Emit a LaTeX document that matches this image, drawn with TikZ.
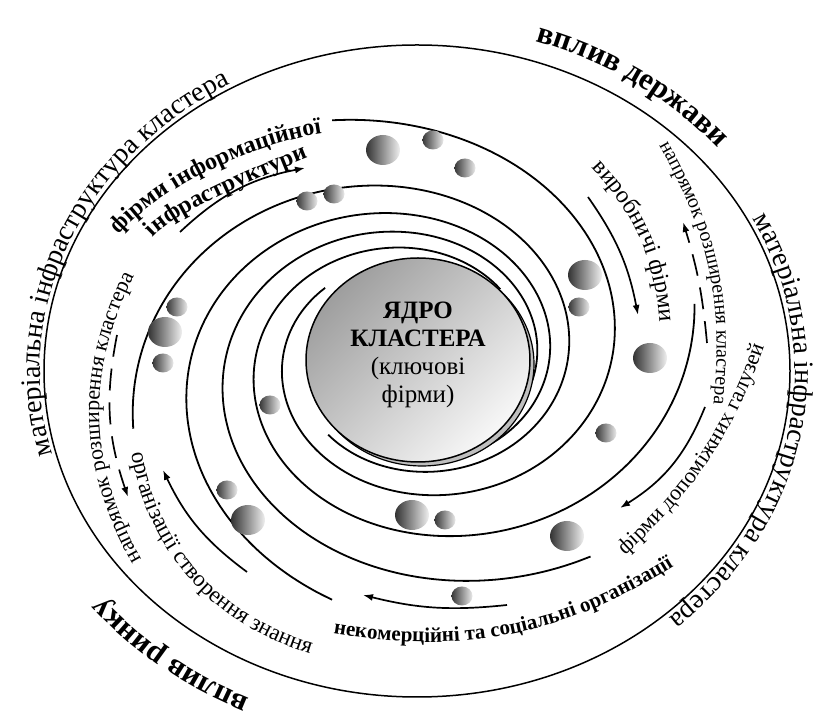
\documentclass[tikz,border=0pt]{standalone}
\usepackage{fontspec}
\setmainfont{Liberation Serif}
\usetikzlibrary{arrows.meta,decorations.text}
\newcommand{\fsz}[1]{\fontsize{#1}{#1}\selectfont}

\begin{document}
\begin{tikzpicture}[
        x=1pt, y=1pt,
        arm/.style={line width=1.8pt},
        flow/.style={-{Latex[length=10pt,width=7pt]}, line width=1.7pt},
        expand/.style={flow, dash pattern=on 22pt off 12pt},
        bigball/.style={left color=black!80, right color=black!6},
        smallball/.style={left color=black!78, right color=black!8},
        curvetext/.style={decorate, decoration={text along path, text align=center, text={#1}}}
      ]
        \useasboundingbox (0,0) rectangle (825,725);

        \draw[line width=1.5pt] (417,354) ellipse [x radius=373, y radius=326];

        % spiral arms
        \foreach \e [evaluate=\e as \s using \e-330] in {196,106,13,308,254}
          \draw[arm] plot[domain=\s:\e, samples=100, smooth]
            ({412+(90+200*0.6^((\e-\x)/90))*cos(\x)}, {365+0.86*(90+200*0.6^((\e-\x)/90))*sin(\x)});

        % core
        \draw[line width=1.2pt, fill=black!25] (422,361) ellipse [x radius=112, y radius=102];
        \shade[draw=black, line width=1.5pt, top color=black!38, bottom color=black!3, shading angle=45]
          (418,365) ellipse [x radius=112, y radius=102];
        \node[font=\fontsize{25}{28}\selectfont, align=center] (core) at (418,370)
          {\textbf{ЯДРО}\\\textbf{КЛАСТЕРА}\\(ключові\hspace*{0.8em}\\фірми)};

        % firms
        \foreach \bx/\by in {383/575, 585/450, 650/367, 567/189, 412/210, 248/205, 165/393}
          \shade[bigball] (\bx,\by) ellipse [x radius=17, y radius=15];
        \foreach \bx/\by in {433/585, 465/557, 307/524, 334/531, 579/418, 606/292, 445/205, 462/129, 227/235, 270/320, 177/418, 163/362}
          \shade[smallball] (\bx,\by) ellipse [x radius=10.5, y radius=9.5];

        % arrows
        \coordinate (infoS) at (180,493);  \coordinate (infoE) at (305,557);
        \coordinate (prodS) at (588,528);  \coordinate (prodE) at (638,410);
        \coordinate (expRS) at (707,382);  \coordinate (expRE) at (683,503);
        \coordinate (auxS) at (705,318);   \coordinate (auxE) at (620,217);
        \coordinate (ngoS) at (507,120);   \coordinate (ngoE) at (363,130);
        \coordinate (knowS) at (247,153);  \coordinate (knowE) at (163,255);
        \coordinate (expLS) at (117,390);  \coordinate (expLE) at (128,228);
        \draw[flow] (infoS) to[bend left=16] (infoE);
        \draw[flow] (prodS) to[bend left=12] (prodE);
        \draw[expand] (expRS) to[bend right=6] (expRE);
        \draw[flow] (auxS) to[bend left=18] (auxE);
        \draw[flow] (ngoS) to[bend left=10] (ngoE);
        \draw[flow] (knowS) to[bend left=14] (knowE);
        \draw[expand] (expLS) to[bend right=15] (expLE);

        % outer labels
        \path[curvetext={|\fsz{28}|матеріальна інфраструктура кластера}]
          ({417+377*cos(215)},{354+330*sin(215)}) arc[start angle=215, end angle=101, x radius=377, y radius=330];
        \path[curvetext={|\fsz{28}|матеріальна інфраструктура кластера}]
          ({417+378*cos(48)},{354+331*sin(48)}) arc[start angle=48, end angle=-68, x radius=378, y radius=331];
        \path[curvetext={|\bfseries\fsz{31}|вплив держави}]
          ({417+393*cos(97)},{354+346*sin(97)}) arc[start angle=97, end angle=13, x radius=393, y radius=346];
        \path[curvetext={|\bfseries\fsz{31}|вплив ринку}]
          ({417+406*cos(273)},{354+359*sin(273)}) arc[start angle=273, end angle=189, x radius=406, y radius=359];

        % inner labels
        \path[curvetext={|\bfseries\fsz{24}|фірми інформаційної}] (117,488) .. controls (164,543) and (265,584) .. (325,592);
        \path[curvetext={|\bfseries\fsz{24}|інфраструктури}] (155,490) .. controls (180,515) and (260,548) .. (305,566);
        \path[curvetext={|\fsz{24}|виробничі фірми}] (587,562) to[bend left=20] (660,396);
        \path[curvetext={|\fsz{20}|напрямок розширення кластера}] (656,585) to[bend left=18] (713,315);
        \path[curvetext={|\fsz{22}|фірми допоміжних галузей}] (612,158) to[bend right=15] (770,395);
        \path[curvetext={|\bfseries\fsz{21}|некомерційні та соціальні організації}] (312,95) to[bend right=22] (692,170);
        \path[curvetext={|\fsz{23}|організації створення знання}] (128,292) to[bend right=35] (330,66);
        \path[curvetext={|\fsz{22}|напрямок розширення кластера}] (148,155) to[bend left=30] (140,460);
      \end{tikzpicture}
\end{document}
